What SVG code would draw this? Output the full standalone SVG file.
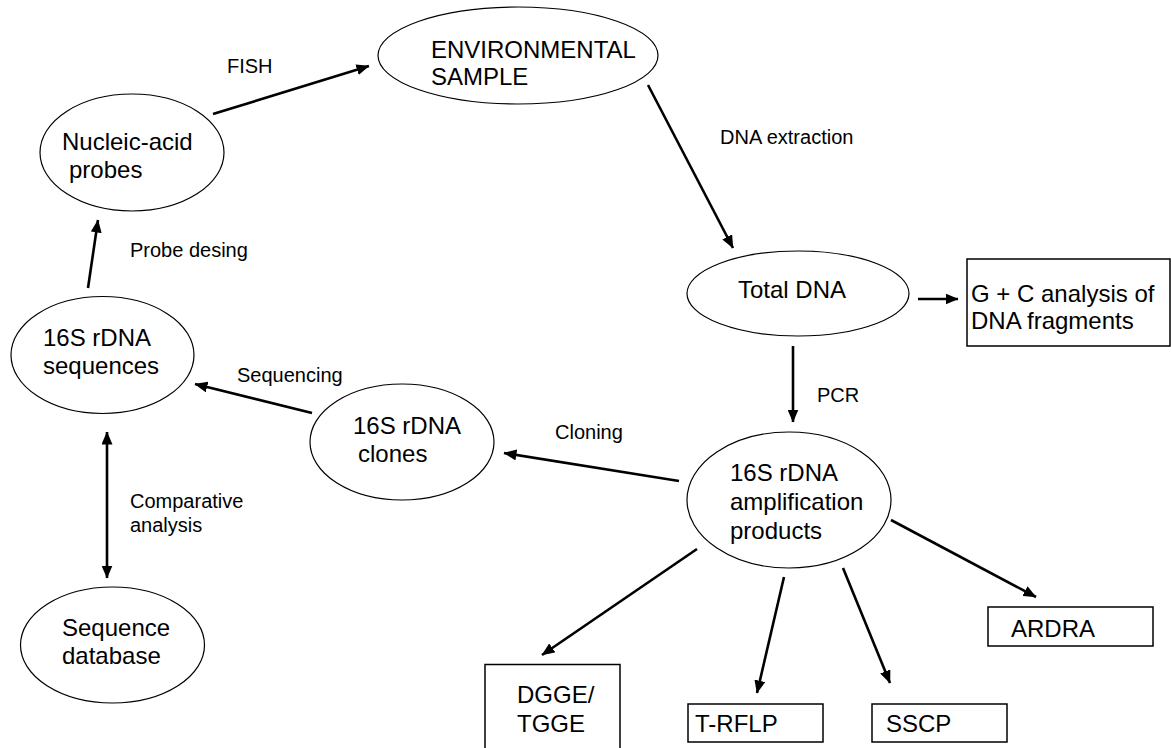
<svg xmlns="http://www.w3.org/2000/svg" width="1171" height="748" viewBox="0 0 1171 748">
<style>
.n{fill:#fff;stroke:#000;stroke-width:1.2}
.b{fill:#fff;stroke:#000;stroke-width:1.5}
.t{font-family:"Liberation Sans",Arial,sans-serif;font-size:24px;fill:#000}
.l{font-family:"Liberation Sans",Arial,sans-serif;font-size:20px;fill:#000}
.c{stroke:#000;stroke-width:2.6;fill:none}
</style>
<defs>
<marker id="ah" markerUnits="userSpaceOnUse" markerWidth="13" markerHeight="11" refX="12.5" refY="5.5" orient="auto-start-reverse">
<path d="M0,0 L13,5.5 L0,11 z" fill="#000"/>
</marker>
</defs>
<rect width="1171" height="748" fill="#fff"/>
<g id="connectors">
<line class="c" x1="213" y1="114" x2="369" y2="66" marker-end="url(#ah)"/>
<line class="c" x1="648" y1="85" x2="733" y2="248" marker-end="url(#ah)"/>
<line class="c" x1="918" y1="299" x2="958" y2="299" marker-end="url(#ah)"/>
<line class="c" x1="793" y1="346" x2="793" y2="422" marker-end="url(#ah)"/>
<line class="c" x1="679" y1="481" x2="504" y2="453" marker-end="url(#ah)"/>
<line class="c" x1="312" y1="413" x2="195" y2="384" marker-end="url(#ah)"/>
<line class="c" x1="88" y1="288" x2="98" y2="220" marker-end="url(#ah)"/>
<line class="c" x1="107" y1="432" x2="107" y2="578" marker-start="url(#ah)" marker-end="url(#ah)"/>
<line class="c" x1="697" y1="549" x2="542" y2="655" marker-end="url(#ah)"/>
<line class="c" x1="784" y1="577" x2="757" y2="693" marker-end="url(#ah)"/>
<line class="c" x1="843" y1="568" x2="890" y2="683" marker-end="url(#ah)"/>
<line class="c" x1="891" y1="520" x2="1036" y2="597" marker-end="url(#ah)"/>
<text class="l" x="227" y="73">FISH</text>
<text class="l" x="720" y="144">DNA extraction</text>
<text class="l" x="130" y="257">Probe desing</text>
<text class="l" x="817" y="402">PCR</text>
<text class="l" x="555" y="439">Cloning</text>
<text class="l" x="237" y="382">Sequencing</text>
<text class="l" x="130" y="508">Comparative</text>
<text class="l" x="130" y="531.5">analysis</text>
</g>
<g id="env">
<ellipse class="n" cx="518" cy="55.5" rx="140" ry="48.5"/>
<text class="t" x="431" y="58">ENVIRONMENTAL</text>
<text class="t" x="431" y="85">SAMPLE</text>
</g>
<g id="nucleic">
<ellipse class="n" cx="132" cy="152.5" rx="92" ry="58.5"/>
<text class="t" x="62" y="150">Nucleic-acid</text>
<text class="t" x="69" y="178">probes</text>
</g>
<g id="sequences">
<ellipse class="n" cx="102.5" cy="355" rx="91.5" ry="58.5"/>
<text class="t" x="43" y="346">16S rDNA</text>
<text class="t" x="43" y="374">sequences</text>
</g>
<g id="clones">
<ellipse class="n" cx="402" cy="442" rx="92" ry="58"/>
<text class="t" x="353" y="434">16S rDNA</text>
<text class="t" x="358" y="462">clones</text>
</g>
<g id="database">
<ellipse class="n" cx="112.5" cy="645" rx="92" ry="58"/>
<text class="t" x="62" y="636">Sequence</text>
<text class="t" x="62" y="664">database</text>
</g>
<g id="totaldna">
<ellipse class="n" cx="798" cy="293.5" rx="111" ry="42.5"/>
<text class="t" x="738" y="298">Total DNA</text>
</g>
<g id="gc">
<rect class="b" x="967" y="259" width="203" height="87"/>
<text class="t" x="971" y="302">G + C analysis of</text>
<text class="t" x="971" y="329">DNA fragments</text>
</g>
<g id="amplification">
<ellipse class="n" cx="789" cy="500" rx="102" ry="68"/>
<text class="t" x="730" y="481">16S rDNA</text>
<text class="t" x="730" y="510">amplification</text>
<text class="t" x="730" y="539">products</text>
</g>
<g id="dgge">
<rect class="b" x="485" y="664.5" width="135" height="100"/>
<text class="t" x="517" y="703">DGGE/</text>
<text class="t" x="517" y="732">TGGE</text>
</g>
<g id="trflp">
<rect class="b" x="688" y="704" width="135" height="38"/>
<text class="t" x="695" y="732">T-RFLP</text>
</g>
<g id="sscp">
<rect class="b" x="872" y="704" width="135" height="38"/>
<text class="t" x="886" y="732">SSCP</text>
</g>
<g id="ardra">
<rect class="b" x="988" y="607" width="165" height="39"/>
<text class="t" x="1011" y="637">ARDRA</text>
</g>
</svg>
